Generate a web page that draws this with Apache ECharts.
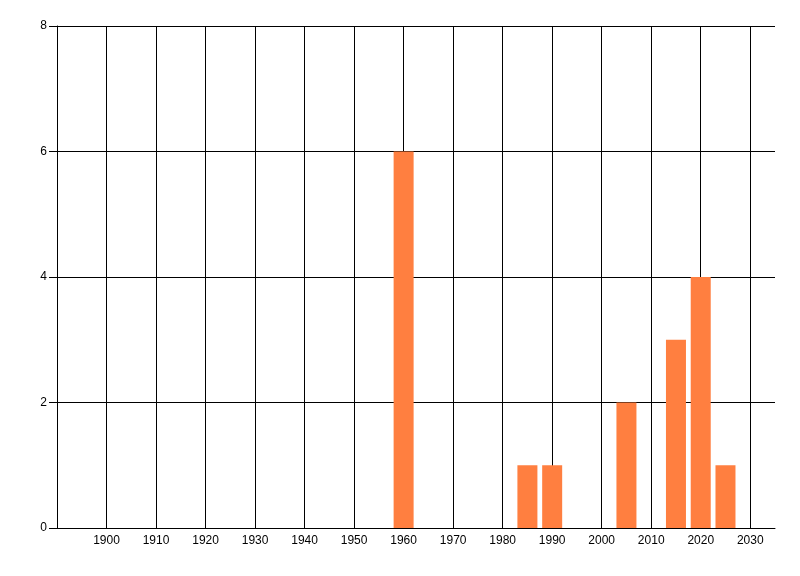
<!DOCTYPE html>
<html>
<head>
<meta charset="utf-8">
<script src="https://cdn.jsdelivr.net/npm/echarts@6/dist/echarts.min.js"></script>
<style>html,body{margin:0;padding:0;background:#fff}#c{width:800px;height:576px}</style>
</head>
<body>
<div id="c"></div>
<script>
var years = [1960, 1985, 1990, 2005, 2015, 2020, 2025];
var counts = [6, 1, 1, 2, 3, 4, 1];
var xTicks = [1900, 1910, 1920, 1930, 1940, 1950, 1960, 1970, 1980, 1990, 2000, 2010, 2020, 2030];

var chart = echarts.init(document.getElementById('c'), null, {renderer: 'canvas'});
var font = 'Liberation Sans';
chart.setOption({
  animation: false,
  backgroundColor: '#fff',
  grid: {left: 57, right: 25, top: 26, bottom: 48, containLabel: false},
  xAxis: {
    type: 'value', min: 1890, max: 2035,
    axisLine: {show: true, lineStyle: {color: '#000', width: 1}},
    axisTick: {show: true, customValues: xTicks, inside: true, length: 502, lineStyle: {color: '#000', width: 1}},
    splitLine: {show: false},
    axisLabel: {customValues: xTicks, color: '#000', fontSize: 12, fontFamily: font, margin: 7,
      formatter: function (v) { return String(v); }}
  },
  yAxis: {
    type: 'value', min: 0, max: 8, interval: 2,
    axisLine: {show: true, lineStyle: {color: '#000', width: 1}},
    axisTick: {show: true, length: 8, lineStyle: {color: '#000', width: 1}},
    splitLine: {show: true, lineStyle: {color: '#000', width: 1}},
    axisLabel: {color: '#000', fontSize: 12, fontFamily: font, margin: 10}
  },
  series: [{
    type: 'bar',
    barWidth: 20,
    itemStyle: {color: '#ff7f40'},
    data: years.map(function (y, i) { return [y, counts[i]]; })
  }]
});
</script>
</body>
</html>
